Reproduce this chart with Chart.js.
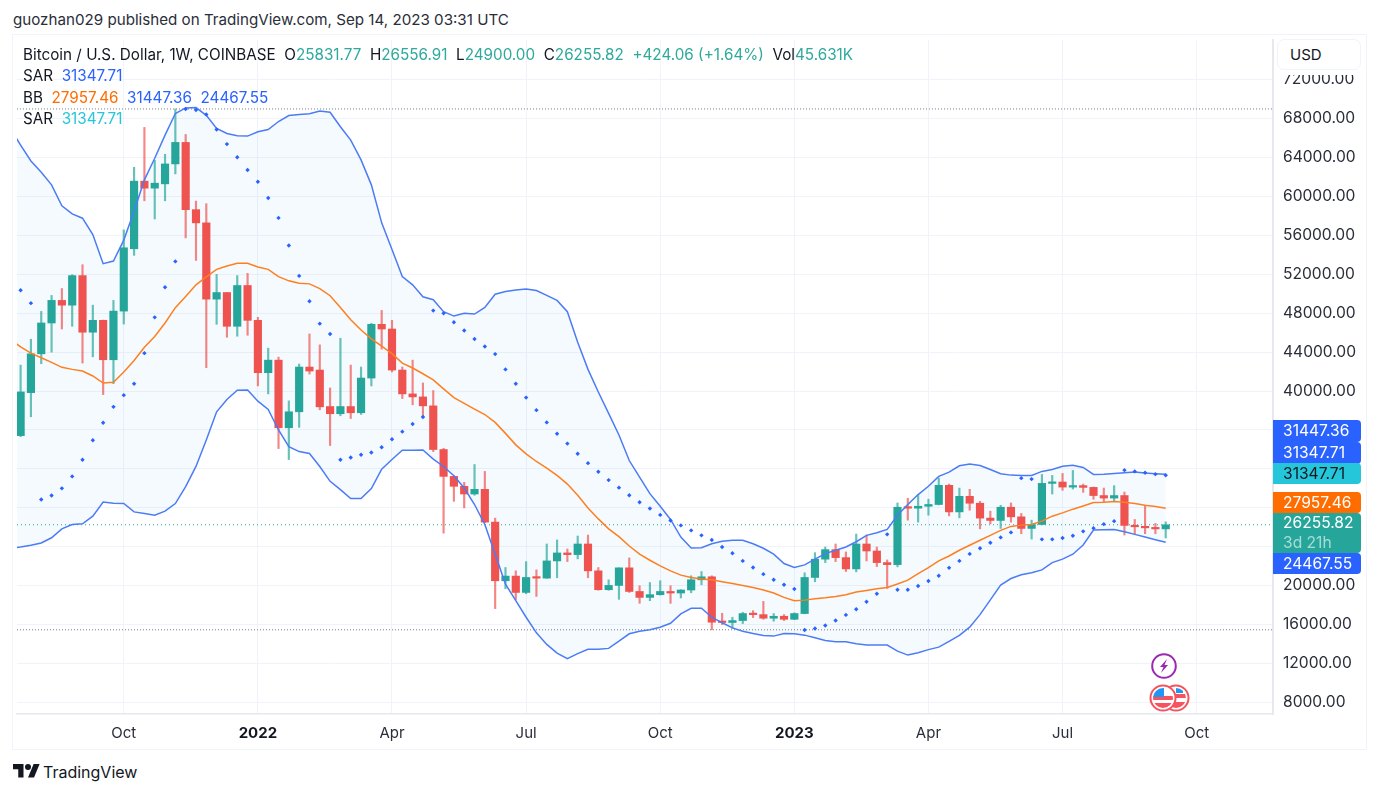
<!DOCTYPE html>
<html>
<head>
<meta charset="utf-8">
<title>Bitcoin / U.S. Dollar, 1W, COINBASE</title>
<script src="https://cdn.jsdelivr.net/npm/chart.js@4/dist/chart.umd.min.js"></script>
<style>
    html, body { margin: 0; padding: 0; background: #fff; }
    body { width: 1384px; height: 797px; position: relative; overflow: hidden; font-family: Inter, "Liberation Sans", sans-serif; color: #131722; }
    .abs { position: absolute; white-space: pre; line-height: 20px; }
    #published { left: 13px; top: 10px; font-size: 15.17px; color: #2a2e39; }
    #frame { position: absolute; left: 12px; top: 34px; width: 1353px; height: 714px; border: 1.5px solid #f0f3fa; }
    #chart { position: absolute; left: 13px; top: 36px; }
    .legend { left: 23px; font-size: 15.25px; color: #131722; }
    .up { color: #2fa99c; }
    .blue { color: #2962ff; }
    .orange { color: #ff6d00; }
    .cyan { color: #26c6da; }
    #usdCover { position: absolute; left: 1274px; top: 36px; width: 91px; height: 39px; background: #fff; }
    #usd { position: absolute; left: 1277px; top: 39px; width: 84px; height: 31px; box-sizing: border-box; border: 1px solid #f0f3fa; border-radius: 7px; background: #fff; font-size: 15px; line-height: 30px; padding-left: 12px; }
    .tag { position: absolute; left: 1273px; width: 88px; border-radius: 0 4px 4px 0; font-size: 15.6px; color: #fff; padding-left: 10px; box-sizing: border-box; }
    .tag small { display: block; font-size: 15.6px; color: rgba(255,255,255,.6); line-height: 19px; }
    #logo { position: absolute; left: 13px; top: 761px; }
    #brand { left: 43px; top: 762px; font-size: 16px; color: #131722; }
    svg.icon { position: absolute; }
</style>
</head>
<body>
<div class="abs" id="published">guozhan029 published on TradingView.com, Sep 14, 2023 03:31 UTC</div>
<div id="frame"></div>
<canvas id="chart" width="1353" height="713"></canvas>

<div class="abs legend" style="top:45px">Bitcoin / U.S. Dollar, 1W, COINBASE  O<span class="up">25831.77</span>  H<span class="up">26556.91</span>  L<span class="up">24900.00</span>  C<span class="up">26255.82</span>  <span class="up">+424.06 (+1.64%)</span>  Vol<span class="up">45.631K</span></div>
<div class="abs legend" style="top:66px">SAR  <span class="blue">31347.71</span></div>
<div class="abs legend" style="top:88px">BB  <span class="orange">27957.46</span>  <span class="blue">31447.36</span>  <span class="blue">24467.55</span></div>
<div class="abs legend" style="top:109px">SAR  <span class="cyan">31347.71</span></div>

<div id="usdCover"></div>
<div id="usd">USD</div>
<div id="tags"></div>

<svg class="icon" style="left:1150px;top:652px" width="28" height="28" viewBox="0 0 28 28">
    <circle cx="14" cy="14" r="11.8" fill="#fff" stroke="#9c27b0" stroke-width="2"/>
    <path d="M17 7 L10 15 L13.5 15 L11 21 L18 13 L14.5 13 Z" fill="#9c27b0"/>
</svg>
<svg class="icon" style="left:1148px;top:683px" width="44" height="30" viewBox="0 0 44 30">
    <defs>
        <clipPath id="c1"><circle cx="15" cy="15" r="10"/></clipPath>
        <clipPath id="c2"><circle cx="28" cy="15" r="10"/></clipPath>
    </defs>
    <circle cx="28" cy="15" r="12.5" fill="#fff" stroke="#f7525f" stroke-width="2"/>
    <g clip-path="url(#c2)">
        <rect x="18" y="5" width="20" height="20" fill="#fff"/>
        <rect x="18" y="11" width="20" height="4" fill="#f7525f"/>
        <rect x="18" y="19" width="20" height="6" fill="#f7525f"/>
        <rect x="28" y="5" width="7" height="5" fill="#2196f3"/>
    </g>
    <circle cx="15" cy="15" r="12.5" fill="#fff" stroke="#f7525f" stroke-width="2"/>
    <g clip-path="url(#c1)">
        <rect x="5" y="5" width="20" height="20" fill="#fff"/>
        <rect x="5" y="13" width="20" height="4" fill="#f7525f"/>
        <rect x="5" y="20" width="20" height="5" fill="#f7525f"/>
        <rect x="5" y="5" width="11" height="9" fill="#2196f3"/>
    </g>
</svg>

<svg id="logo" width="27" height="21" viewBox="0 0 36 28"><path d="M14 22H7V11H0V4h14v18zM28 22h-8l7.5-18h8L28 22z" fill="#131722"/><circle cx="20" cy="8" r="4" fill="#131722"/></svg>
<div class="abs" id="brand">TradingView</div>

<script>
// weekly candles, first entry is the week left of the frame (week -11), week 0 = Oct 2021
const firstWeek = -11;
const opens = [
    null,35420,39840,43830,47000,49320,48830,51870,46050,47270,43220,
    48220,54630,61580,60860,61300,63350,65560,58650,57290,49450,
    50130,46660,50850,47270,41890,43180,36230,37870,42470,42160,
    38410,37670,38410,37770,41340,46860,46380,42160,39710,39400,
    38480,33990,31230,30210,29420,29900,26530,20500,20980,19300,
    20840,20770,22540,23360,23190,24280,21520,19580,20020,21830,
    19400,18790,19070,19400,19240,19550,20600,20910,16340,16210,
    16410,17130,17020,16650,16850,16540,17130,20840,22720,23700,
    22880,21720,24280,23560,22370,22160,28060,27960,28160,28340,
    30310,27580,29180,28470,26940,26700,28060,27070,25880,26290,
    30510,30650,30130,30280,30100,29260,29000,29260,26190,26050,
    25940,25831.77
];
const closes = [
    null,39910,43830,47000,49320,48830,51870,46050,47270,43220,48220,
    54730,61580,60860,61370,63350,65560,58650,57290,49450,50130,
    46660,50850,47270,41890,43180,36230,37870,42470,42060,38380,
    37670,38410,37770,41340,46860,46380,42160,39710,39400,38480,
    33990,31230,30210,29420,29900,26530,20500,20980,19300,20840,
    20770,22540,23360,23190,24280,21520,19580,20020,21830,19400,
    18790,19070,19400,19240,19550,20600,20910,16240,16210,16410,
    17130,17020,16650,16850,16540,17130,20840,22720,23700,22880,
    21720,24280,23560,22370,22160,28060,27960,28160,28340,30310,
    27580,29180,28470,26940,26700,28060,27070,25880,26290,30510,
    30650,30130,30280,30100,29260,29000,29260,26190,26050,25940,
    25830,26255.82
];
const highs = [
    null,42670,45330,48190,49830,50540,51970,52990,48830,47300,49320,
    56570,63010,67100,63720,64340,69000,66380,59530,59260,52000,
    50130,51870,52100,47580,44410,43490,38990,42780,45870,44750,
    40320,45430,42670,42470,46970,48290,47270,42470,43180,40830,
    40050,34120,31300,30620,32450,31740,26940,21860,21520,22470,
    21620,24280,24690,23770,25100,25200,21860,20600,21830,22850,
    19990,20320,20500,19990,19580,21010,21450,21010,17160,16750,
    17260,17430,18380,17130,17020,17200,21320,23390,23970,24280,
    23460,25300,25200,23970,22640,28500,28980,29290,28880,31050,
    30440,30030,29900,28670,27650,28260,28500,27420,26730,31430,
    31330,31530,31840,30440,30140,30030,30280,29620,26800,28160,
    26390,26556.91
];
const lows = [
    null,35310,37360,42810,44000,46380,46660,42880,43520,39640,40760,
    46890,53950,59560,57690,59560,62320,55750,53430,42400,46860,
    45530,45640,45740,40530,39710,34090,32960,36270,41750,38070,
    34400,37460,37180,37600,40530,44310,41960,39230,38590,37290,
    33780,25400,28670,27990,29290,26480,17640,19680,18560,19170,
    18890,20750,20810,22470,22750,20810,19530,19530,18590,19300,
    18180,18450,19020,18180,18730,19270,20090,15460,16000,15590,
    16100,16720,16540,16340,16410,16500,17100,20400,22370,22470,
    21450,21420,22540,21960,19710,21930,26730,26530,27240,28300,
    27170,26970,27750,25840,26350,25880,26530,25330,24790,26250,
    29420,29800,29930,29590,28880,28600,28670,25200,25330,25330,
    25330,24900
];
const bbUpper = [
    66990,65290,63650,62500,61200,59050,58210,57770,56090,53100,53370,
    55520,58480,61710,63930,66310,68530,69110,69140,68350,66990,
    66480,66250,66210,66660,66890,67710,68320,68430,68500,68800,
    68660,67170,65800,63760,61200,57290,54560,51770,50920,49690,
    49390,48160,47710,47990,47920,48600,49960,50240,50390,50490,
    50340,49830,49320,48160,45020,42230,39910,37700,35490,32860,
    31160,29460,28160,26800,24990,23870,23900,24310,24560,24660,
    24660,24310,23840,23230,22270,21860,22130,22720,23290,23640,
    23970,24510,25170,25430,25780,27240,28340,29360,30210,31230,
    31670,32320,32490,32350,31940,31500,31360,31330,31330,31740,
    31940,32280,32380,32150,31430,31460,31530,31610,31670,31570,
    31500,31447.36
];
const bbBasis = [
    45330,44540,43900,43420,42950,42440,42230,42060,41550,40830,40910,
    41960,43150,44510,45610,47000,48570,49720,50920,51740,52510,
    52860,53130,53130,52760,52510,51770,51330,51080,51020,50540,
    49800,48600,47340,46280,45360,44620,43850,42880,42370,41780,
    41140,40220,39330,38740,38150,37590,36780,35650,34470,33550,
    32760,32080,31330,30440,29290,27990,26860,25840,25030,24070,
    23230,22610,22030,21520,21080,20840,20670,20600,20400,20220,
    20020,19810,19550,19240,18790,18450,18510,18660,18760,18890,
    19070,19340,19510,19680,19810,20160,20570,21240,21860,22540,
    23050,23640,24150,24660,25170,25680,26090,26220,26290,26630,
    27140,27480,27860,28190,28540,28570,28640,28570,28440,28270,
    28130,27957.46
];
const bbLower = [
    23820,23970,24150,24380,24920,25840,26290,26350,27140,28600,28470,
    28440,27580,27420,27240,27650,28440,30180,32250,34980,37870,
    39130,40090,40120,38960,38110,36000,34290,33780,33580,32250,
    30720,29870,28950,28950,29970,31970,32970,33920,33920,33940,
    33000,32250,31300,30030,28340,26290,23230,20160,18450,16750,
    15150,13960,13070,12500,13010,13450,13450,13550,14300,15050,
    15320,15460,15730,16130,17100,17670,17670,16750,16180,15660,
    15320,15080,14880,14810,15080,15050,14910,14640,14370,14230,
    14230,14030,13890,13890,13890,13270,12860,13110,13420,13680,
    14260,14880,15730,17020,18530,20060,20730,21110,21320,21620,
    22370,22720,23230,24180,25710,25740,25780,25540,25270,24990,
    24720,24467.55
];
const sar = [
    null,50370,49040,28850,29260,30000,31230,32940,34940,36750,38380,
    39580,40760,43900,47580,50680,53330,69000,68900,68430,66890,
    65390,64030,62730,61510,59840,57800,54970,51840,49240,46930,
    45870,32940,33170,33450,33680,34220,35040,35830,36610,37330,
    48270,47990,47070,46220,45360,44580,43800,42230,40760,39330,
    38040,36780,35620,34600,33550,32590,31710,30850,30070,29290,
    28570,27930,27270,26700,26190,25680,25170,24690,23970,23330,
    22540,21860,21180,20600,20090,19650,15440,15590,15900,16410,
    16990,17570,18350,19170,25270,19580,19580,19960,20470,21010,
    21830,22540,23260,23840,24410,24960,25470,31050,30950,24760,
    24760,24890,25130,25580,25910,26320,26630,31870,31740,31610,
    31460,31347.71
];
const highLine = 69000;
const lowLine = 15460;
const lastPrice = 26255.82;

const priceTicks = [8000,12000,16000,20000,24000,28000,32000,36000,40000,44000,48000,52000,56000,60000,64000,68000,72000];
const tickWeeks = [0,13,26,39,52,65,78,91,104];
const tickLabels = ['Oct','2022','Apr','Jul','Oct','2023','Apr','Jul','Oct'];

const tagNames = ['31447.36','31347.71','31347.71','27957.46','26255.82','24467.55'];
const tagSub = [null,null,null,null,'3d 21h',null];
const tagColors = ['#2962ff','#2962ff','#26c6da','#ff6d00','#26a69a','#2962ff'];
const tagTops = [419.5,441.5,463,491.5,513,552.5];
const tagHeights = [22,22,21,21.5,39.5,21];

const xMin = -10.35, xMax = 111.4;
const yMin = 6804, yMax = 76089;

function series(values) {
    const out = [];
    values.forEach((v, i) => { if (v !== null) out.push({ x: firstWeek + i, y: v }); });
    return out;
}
function candles(a, b) {
    const out = [];
    a.forEach((v, i) => { if (v !== null) out.push({ x: firstWeek + i, y: [v, b[i]] }); });
    return out;
}
function flatLine(v) {
    return [{ x: xMin, y: v }, { x: xMax, y: v }];
}
function candleColors(up, down) {
    return opens.filter(v => v !== null).map((v, i) => closes[i + 1] >= v ? up : down);
}
function isYearTick(ctx) {
    return ctx.tick ? tickLabels[tickWeeks.indexOf(ctx.tick.value)].length === 4 : false;
}
// the frame is fixed, so the tick labels must not push the plot area in
function noPadding(scale) {
    scale.paddingLeft = scale.paddingRight = scale.paddingTop = scale.paddingBottom = 0;
}

const gridColor = '#f0f3fa';
const axisColor = '#e6e8ee';
const upColor = '#26a69a', downColor = '#ef5350';
const bandColor = '#4c7cf5';

const tagsEl = document.getElementById('tags');
tagNames.forEach((name, i) => {
    const d = document.createElement('div');
    d.className = 'tag';
    d.style.top = tagTops[i] + 'px';
    d.style.height = tagHeights[i] + 'px';
    d.style.lineHeight = (tagSub[i] ? 20 : tagHeights[i]) + 'px';
    d.style.background = tagColors[i];
    if (tagColors[i] === '#26c6da') d.style.color = '#131722';
    d.textContent = name;
    if (tagSub[i]) {
        const s = document.createElement('small');
        s.textContent = tagSub[i];
        d.appendChild(s);
    }
    tagsEl.appendChild(d);
});

const lowerIndex = 2;

new Chart(document.getElementById('chart').getContext('2d'), {
    type: 'bar',
    data: {
        datasets: [
            { type: 'line', label: 'BB upper', data: series(bbUpper), borderColor: bandColor, borderWidth: 1.5, pointRadius: 0, tension: 0,
              backgroundColor: 'rgba(33,150,243,0.05)', fill: { target: lowerIndex }, order: 2 },
            { type: 'line', label: 'BB basis', data: series(bbBasis), borderColor: '#ff7f1e', borderWidth: 1.5, pointRadius: 0, tension: 0, fill: false, order: 3 },
            { type: 'line', label: 'BB lower', data: series(bbLower), borderColor: bandColor, borderWidth: 1.5, pointRadius: 0, tension: 0, fill: false, order: 2 },
            { type: 'line', label: 'SAR', data: series(sar), showLine: false, pointStyle: 'rectRot', pointRadius: 2.2, pointBackgroundColor: '#2962ff', pointBorderWidth: 0, order: 1 },
            { type: 'line', label: 'High', data: flatLine(highLine), borderColor: '#787b86', borderWidth: 1, borderDash: [1, 2], pointRadius: 0, fill: false, order: 7 },
            { type: 'line', label: 'Low', data: flatLine(lowLine), borderColor: '#787b86', borderWidth: 1, borderDash: [1, 2], pointRadius: 0, fill: false, order: 7 },
            { type: 'line', label: 'Last', data: flatLine(lastPrice), borderColor: '#26a69a', borderWidth: 1, borderDash: [1, 3], pointRadius: 0, fill: false, order: 7 },
            { type: 'bar', label: 'Wick', data: candles(lows, highs), barThickness: 1.5, grouped: false, backgroundColor: candleColors('rgba(38,166,154,.7)', 'rgba(239,83,80,.7)'), order: 6 },
            { type: 'bar', label: 'Body', data: candles(opens, closes), barThickness: 7.5, grouped: false, minBarLength: 1.5, backgroundColor: candleColors(upColor, downColor), order: 5 }
        ]
    },
    options: {
        responsive: false,
        animation: false,
        layout: { padding: 0 },
        plugins: {
            legend: { display: false },
            tooltip: { enabled: false },
            filler: { drawTime: 'beforeDatasetsDraw' }
        },
        scales: {
            x: {
                type: 'linear',
                min: xMin,
                max: xMax,
                offset: false,
                afterBuildTicks: scale => { scale.ticks = tickWeeks.map(v => ({ value: v })); },
                afterFit: scale => { scale.height = 35; noPadding(scale); },
                grid: { color: gridColor, drawTicks: false, offset: false },
                border: { color: axisColor, width: 1.5 },
                ticks: {
                    autoSkip: false,
                    maxRotation: 0,
                    padding: 10,
                    color: ctx => isYearTick(ctx) ? '#131722' : '#2a2e39',
                    font: ctx => ({ family: 'Inter', size: 15, weight: isYearTick(ctx) ? '700' : '400' }),
                    callback: v => tickLabels[tickWeeks.indexOf(v)]
                }
            },
            y: {
                position: 'right',
                min: yMin,
                max: yMax,
                afterBuildTicks: scale => { scale.ticks = priceTicks.map(v => ({ value: v })); },
                afterFit: scale => { scale.width = 93; noPadding(scale); },
                grid: { color: gridColor, drawTicks: false },
                border: { color: axisColor, width: 2 },
                ticks: {
                    autoSkip: false,
                    padding: 10,
                    color: '#2a2e39',
                    font: { family: 'Inter', size: 15.6 },
                    callback: v => v.toFixed(2)
                }
            }
        }
    }
});
</script>
</body>
</html>
